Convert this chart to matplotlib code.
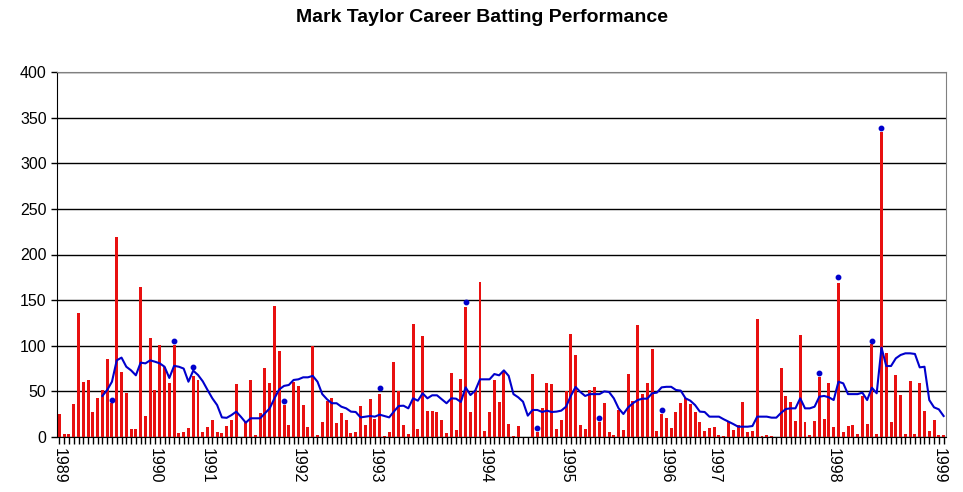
import numpy as np
from matplotlib import pyplot as plt

# innings scores (one bar per innings)
scores = [25, 3, 3, 36, 136, 60, 62, 27, 43, 51,
          85, 37, 219, 71, 48, 9, 9, 164, 23, 108,
          51, 101, 77, 59, 101, 4, 5, 10, 67, 62,
          5, 11, 19, 5, 4, 12, 19, 58, 0, 16,
          62, 2, 26, 76, 59, 144, 94, 35, 13, 60,
          56, 35, 11, 100, 2, 16, 40, 43, 15, 26,
          19, 4, 6, 34, 13, 42, 20, 47, 1, 6,
          82, 50, 13, 3, 124, 9, 111, 28, 28, 27,
          19, 4, 70, 8, 64, 142, 27, 51, 170, 7,
          27, 62, 38, 71, 14, 1, 12, 0, 0, 69,
          5, 32, 59, 58, 9, 19, 50, 113, 90, 13,
          9, 51, 55, 16, 37, 5, 2, 30, 8, 69,
          39, 123, 47, 59, 96, 7, 25, 21, 10, 27,
          37, 43, 36, 27, 16, 7, 10, 11, 2, 1,
          16, 8, 13, 38, 5, 7, 129, 1, 2, 1,
          0, 76, 45, 38, 18, 112, 16, 2, 18, 66,
          20, 59, 11, 169, 5, 12, 13, 3, 45, 14,
          102, 3, 334, 92, 16, 68, 46, 3, 61, 3,
          59, 28, 7, 19, 2, 2]

# not out markers (innings index, plotted value)
notout_idx = [11, 24, 28, 47, 67, 85, 100, 113, 126, 159, 163, 170, 172]
notout_val = [40.5, 105.6, 77, 40, 54, 148, 10, 21, 30, 70.5, 175, 105, 339]

# 10 innings average, starts at innings index 9
avg_start = 9
avg_vals = [45, 51.5, 60.6, 84, 87, 77, 73, 67.6, 81.5, 80.7,
            84, 82.5, 80.7, 77, 64.7, 78, 77, 75, 60.6, 72.7,
            68, 61, 51.5, 42.4, 35, 21.5, 21, 24, 27.8, 22,
            15.7, 20.5, 20.5, 20.5, 26, 31.4, 42.4, 52.2, 56, 57,
            62.5, 63.2, 65.4, 65.4, 67, 60.6, 47, 41.3, 37, 37,
            33.2, 31.4, 27.8, 27.4, 21.5, 22.3, 23, 22.3, 24.5, 23,
            21.5, 28, 34, 34.3, 31.4, 42.4, 39.8, 47.9, 42.4, 45.7,
            45.7, 41.3, 37, 42.4, 42, 38.4, 54.4, 46, 50.8, 63.2,
            63.2, 63.2, 69, 67.6, 73, 67, 47, 43.5, 38.7, 23.4,
            29.6, 29.6, 27.4, 28.9, 27.4, 27.8, 28.9, 33.2, 45, 54.8,
            49.3, 45, 47, 47, 47, 50, 49.3, 42.4, 31.4, 25.2,
            32.5, 37, 40.5, 42, 42, 47.9, 48.6, 54.4, 55, 55,
            51.5, 50.8, 42.4, 39.8, 35, 27.8, 27.4, 22.3, 22.3, 22.3,
            19.4, 16.8, 14.2, 11.3, 11.3, 11.3, 12, 22.3, 22.3, 22.3,
            21.2, 21.2, 26.5, 30.7, 31.4, 31.4, 42.4, 31.4, 31.4, 33.2,
            44.2, 45, 43.5, 40.5, 60.6, 58.8, 47, 47, 47, 48.6,
            40.5, 54, 47.9, 98, 77.8, 77.8, 86.2, 89.9, 91.7, 91.7,
            91, 76.3, 77, 40.5, 32.5, 30.3, 23]

years = ['1989', '1990', '1991', '1992', '1993', '1994',
         '1995', '1996', '1997', '1998', '1999']
year_idx = [0, 20, 31, 50, 66, 89, 106, 127, 137, 162, 184]

plt.rcParams['font.family'] = ['Liberation Sans', 'DejaVu Sans']

fig = plt.figure(figsize=(9.63, 4.92), dpi=100)
ax = fig.add_axes([57 / 963, 1 - 437 / 492, 889 / 963, 365 / 492])

x = np.arange(len(scores))
ax.bar(x, scores, width=0.62, color='#E81010', zorder=2)
avg_x = np.arange(avg_start, avg_start + len(avg_vals))
ax.plot(avg_x, avg_vals, color='#0000CC', lw=1.5, zorder=3)
ax.plot(notout_idx, notout_val, 'o', color='#0000CC', ms=3.2, zorder=4)

ax.set_xlim(-0.5, len(scores) - 0.5)
ax.set_ylim(0, 400)
ax.set_yticks(range(0, 401, 50))
ax.yaxis.grid(True, color='black', lw=1.0, zorder=1)
ax.set_axisbelow(True)
ax.tick_params(axis='y', labelsize=11.5, length=4, width=1, direction='out')

ax.set_xticks(year_idx)
ax.set_xticklabels(years, rotation=270, fontsize=11.5)
ax.set_xticks(x, minor=True)
ax.tick_params(axis='x', which='both', length=5, width=1, direction='out', pad=3)

for side in ['top', 'right']:
    ax.spines[side].set_color('#808080')
for side in ['left', 'bottom']:
    ax.spines[side].set_color('black')

fig.suptitle('Mark Taylor Career Batting Performance', x=0.5, y=1 - 18 / 492,
             va='center', fontsize=14, fontweight='bold')

plt.savefig('out.png', dpi=100)
